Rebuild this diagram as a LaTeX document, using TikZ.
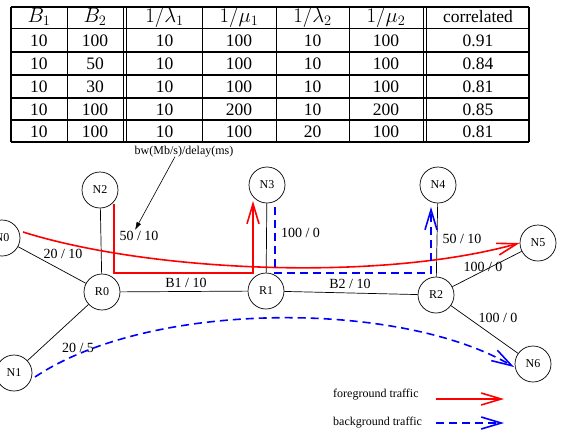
\documentclass[tikz,border=0pt]{standalone}
\usepackage{fontspec}
\setmainfont{Liberation Serif}
\usetikzlibrary{arrows.meta}
\begin{document}
\begin{tikzpicture}[x=1pt,y=-1pt,
  nd/.style={draw, circle, minimum size=36pt, inner sep=0pt, line width=0.7pt, font=\fontsize{12}{14}\selectfont},
  lnk/.style={line width=0.7pt},
  lbl/.style={font=\fontsize{14}{16}\selectfont, inner sep=0pt},
  small/.style={font=\fontsize{12}{14}\selectfont, inner sep=0pt},
  fg/.style={draw=red, line width=1.6pt, -{Straight Barb[length=20pt,width=12pt]}},
  bg/.style={draw=blue, line width=1.6pt, dash pattern=on 8pt off 5pt, -{Straight Barb[length=20pt,width=12pt]}},
  ptr/.style={line width=0.6pt, -{Latex[length=8pt,width=5pt]}},
  cell/.style={font=\fontsize{17.5}{20}\selectfont, inner sep=0pt, anchor=base},
  hcell/.style={font=\fontsize{20.5}{22}\selectfont, inner sep=0pt, anchor=base},
  hl/.style={line width=0.8pt},
  thk/.style={line width=1.6pt},
  bd/.style={line width=1.2pt}
]
\useasboundingbox (0,0) rectangle (563,437);
\fill[white] (0,0) rectangle (563,437);

% ---------- table ----------
\draw[bd] (11,7) -- (529,7);
\draw[hl] (11,28) -- (529,28);
\foreach \yy in {52,75,98,120} \draw[thk] (11,\yy) -- (529,\yy);
\draw[bd] (11,142) -- (529,142);
\foreach \xx in {67,123,126.5,202,276,349,423,426.5} \draw[hl] (\xx,7) -- (\xx,142);
\draw[bd] (11,7) -- (11,142);
\draw[bd] (529,7) -- (529,142);

\node[hcell] (h1) at (39,22) {$B_1$};
\node[hcell] (h2) at (95,22) {$B_2$};
\node[hcell] (h3) at (164.5,22) {$1/\lambda_1$};
\node[hcell] (h4) at (239,22) {$1/\mu_1$};
\node[hcell] (h5) at (312.5,22) {$1/\lambda_2$};
\node[hcell] (h6) at (386,22) {$1/\mu_2$};
\node[cell] (h7) at (478,22) {correlated};

\foreach \y/\a/\b/\c/\d/\e/\f/\g [count=\r] in {
  46/10/100/10/100/10/100/0.91,
  69.5/10/50/10/100/10/100/0.84,
  92.5/10/30/10/100/10/100/0.81,
  115/10/100/10/200/10/200/0.85,
  137/10/100/10/100/20/100/0.81}
{
  \node[cell] (t\r-1) at (39,\y) {\a};
  \node[cell] (t\r-2) at (95,\y) {\b};
  \node[cell] (t\r-3) at (164.5,\y) {\c};
  \node[cell] (t\r-4) at (239,\y) {\d};
  \node[cell] (t\r-5) at (312.5,\y) {\e};
  \node[cell] (t\r-6) at (386,\y) {\f};
  \node[cell] (t\r-7) at (478,\y) {\g};
}

% ---------- network ----------
\node[nd] (N0) at (2,238) {N0};
\node[nd] (N1) at (14,373) {N1};
\node[nd] (N2) at (100,190) {N2};
\node[nd] (N3) at (267,185) {N3};
\node[nd] (N4) at (438,185) {N4};
\node[nd] (N5) at (538,243) {N5};
\node[nd] (N6) at (533,364) {N6};
\node[nd] (R0) at (102,292) {R0};
\node[nd] (R1) at (266,291) {R1};
\node[nd] (R2) at (436,295) {R2};

\draw[lnk] (N0) -- (R0);
\draw[lnk] (N1) -- (R0);
\draw[lnk] (N2) -- (R0);
\draw[lnk] (R0) -- (R1);
\draw[lnk] (R1) -- (N3);
\draw[lnk] (R1) -- (R2);
\draw[lnk] (R2) -- (N4);
\draw[lnk] (R2) -- (N5);
\draw[lnk] (R2) -- (N6);

\node[lbl] (l1) at (63,254) {20 / 10};
\node[lbl] (l2) at (139,236) {50 / 10};
\node[lbl] (l3) at (186,283) {B1 / 10};
\node[lbl] (l4) at (300.5,233) {100 / 0};
\node[lbl] (l5) at (350,284) {B2 / 10};
\node[lbl] (l6) at (462,239) {50 / 10};
\node[lbl] (l7) at (483,267) {100 / 0};
\node[lbl] (l8) at (498,318) {100 / 0};
\node[lbl] (l9) at (78,348) {20 / 5};

\node[small] (bw) at (184,152) {bw(Mb/s)/delay(ms)};
\coordinate (bwTip) at (135,230);
\draw[ptr] ([xshift=-9pt,yshift=1pt]bw.south) -- (bwTip);

% foreground traffic
\coordinate (fS) at (23,232);
\draw[fg] (fS) .. controls (150,272) and (380,282) .. (N5.west);
\coordinate (r1) at (114,204);
\coordinate (r2) at (114,273);
\coordinate (r3) at (253,273);
\coordinate (r4) at (253,201);
\draw[fg] (r1) -- (r2) -- (r3) -- (r4);

% background traffic
\coordinate (b1) at (275,207);
\coordinate (b2) at (275,273);
\coordinate (b3) at (431,273);
\coordinate (b4) at (431,207);
\draw[bg] (b1) -- (b2) -- (b3) -- (b4);
\coordinate (bS) at (35,377);
\coordinate (bE) at (514,367);
\draw[bg] (bS) .. controls (150,300) and (400,300) .. (bE);

% legend
\node[small, anchor=west] (lf) at (333,395) {foreground traffic};
\node[small, anchor=west] (lb) at (333,423) {background traffic};
\coordinate (lfA) at (436,399);
\coordinate (lfB) at (504,399);
\coordinate (lbA) at (436,423);
\coordinate (lbB) at (504,423);
\draw[fg] (lfA) -- (lfB);
\draw[bg] (lbA) -- (lbB);
\end{tikzpicture}
\end{document}
